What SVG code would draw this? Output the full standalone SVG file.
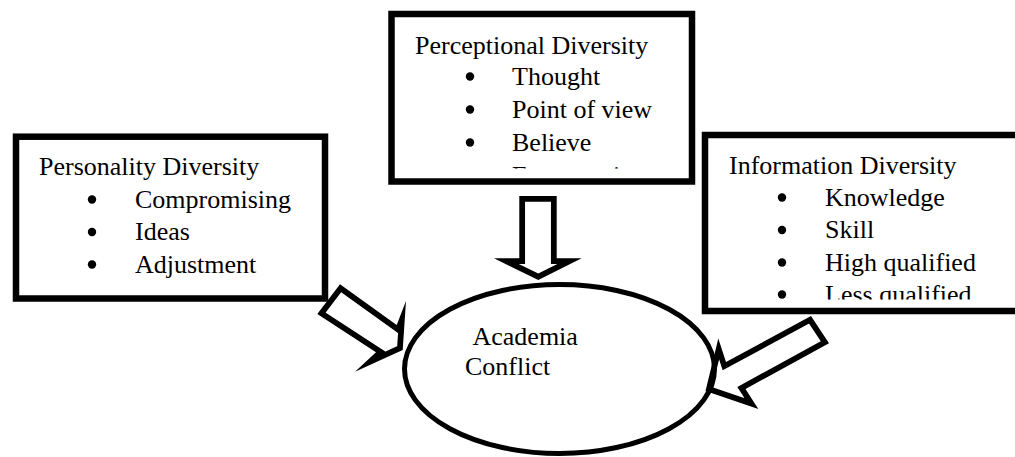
<svg xmlns="http://www.w3.org/2000/svg" xmlns:xlink="http://www.w3.org/1999/xlink" width="1015" height="457" viewBox="0 0 1015 457">
<style>
.box{fill:#fff;stroke:#000;stroke-width:6.5}
.t{font-family:"Liberation Serif","Times New Roman",serif;font-size:26px;fill:#000}
.b{fill:#000}
.arrow{fill:#fff;stroke:#000;stroke-width:11.5;stroke-linejoin:miter}
.ell{fill:none;stroke:#000;stroke-width:5}
</style>
<defs>
<polygon id="arrL" points="340,284.3 396.7,325 406,301 402.7,350 355,371.7 376,352.3 317.3,314"/>
<polygon id="arrD" points="519.3,196 556.7,196 556.7,258.3 581.7,258.3 538.3,280 494,258.3 519.3,258.3"/>
<polygon id="arrR" points="811,316 829,343.3 745.5,389 758.3,409 705.5,391 718.3,338.5 726,362"/>
<clipPath id="cL"><use xlink:href="#arrL"/></clipPath>
<clipPath id="cD"><use xlink:href="#arrD"/></clipPath>
<clipPath id="cR"><use xlink:href="#arrR"/></clipPath>
<clipPath id="clipTop"><rect x="395" y="17" width="294" height="151.6"/></clipPath>
<clipPath id="clipRight"><rect x="708" y="138" width="320" height="161.5"/></clipPath>
</defs>
<rect width="1015" height="457" fill="#fff"/>

<g id="node-perceptional">
<rect class="box" x="391.5" y="14" width="300.5" height="167.5"/>
<text class="t" x="415" y="54">Perceptional Diversity</text>
<circle class="b" cx="470" cy="76.5" r="4.2"/>
<text class="t" x="512" y="84.5">Thought</text>
<circle class="b" cx="470" cy="109.5" r="4.2"/>
<text class="t" x="512" y="117.5">Point of view</text>
<circle class="b" cx="470" cy="142.5" r="4.2"/>
<text class="t" x="512" y="150.5">Believe</text>
<g clip-path="url(#clipTop)">
<circle class="b" cx="470" cy="175.5" r="4.2"/>
<text class="t" x="512" y="183.5">Extroversion</text>
</g>
</g>

<g id="node-personality">
<rect class="box" x="16" y="136.7" width="309" height="161.8"/>
<text class="t" x="39" y="175">Personality Diversity</text>
<circle class="b" cx="92" cy="199.5" r="4.2"/>
<text class="t" x="135" y="207.5">Compromising</text>
<circle class="b" cx="92" cy="232" r="4.2"/>
<text class="t" x="135" y="240">Ideas</text>
<circle class="b" cx="92" cy="264.5" r="4.2"/>
<text class="t" x="135" y="272.5">Adjustment</text>
</g>

<g id="node-information">
<rect class="box" x="705" y="135" width="330" height="176"/>
<text class="t" x="729" y="174">Information Diversity</text>
<circle class="b" cx="782" cy="197.5" r="4.2"/>
<text class="t" x="825" y="205.5">Knowledge</text>
<circle class="b" cx="782" cy="230" r="4.2"/>
<text class="t" x="825" y="238">Skill</text>
<circle class="b" cx="782" cy="262.5" r="4.2"/>
<text class="t" x="825" y="270.5">High qualified</text>
<g clip-path="url(#clipRight)">
<circle class="b" cx="782" cy="294.5" r="4.2"/>
<text class="t" x="825" y="302.5">Less qualified</text>
</g>
</g>

<g id="connectors">
<use xlink:href="#arrD" class="arrow" clip-path="url(#cD)"/>
<use xlink:href="#arrL" class="arrow" clip-path="url(#cL)"/>
<use xlink:href="#arrR" class="arrow" clip-path="url(#cR)"/>
</g>

<g id="node-conflict">
<ellipse class="ell" cx="559.5" cy="369" rx="155" ry="84.5"/>
<text class="t" x="472.5" y="345">Academia</text>
<text class="t" x="465" y="375">Conflict</text>
</g>
</svg>
